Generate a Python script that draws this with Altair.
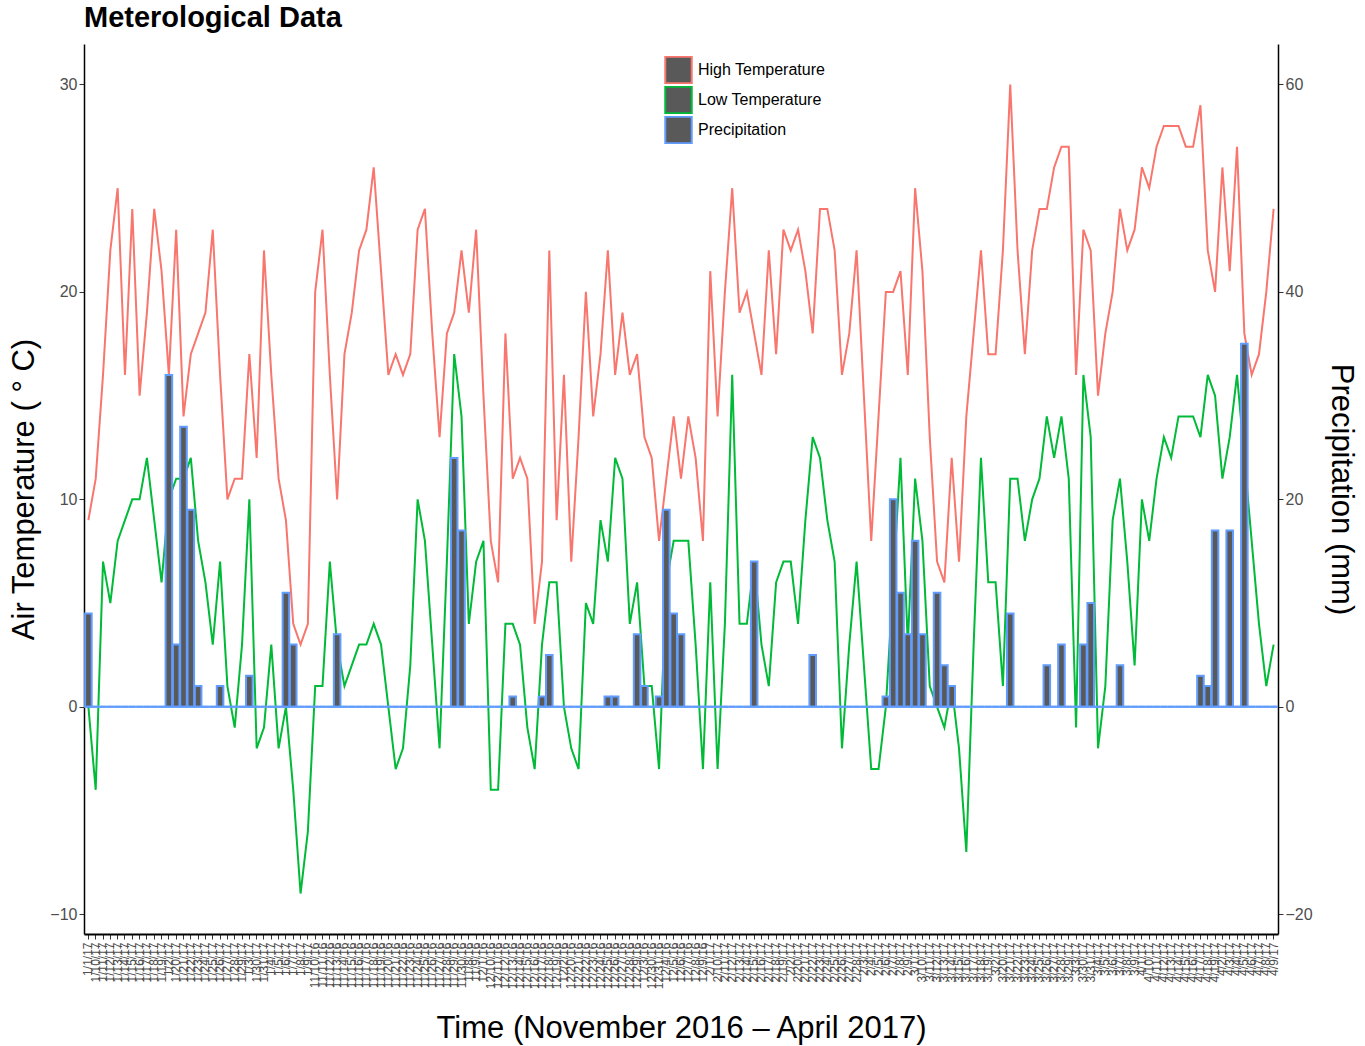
import altair as alt
import pandas as pd

# ---- category labels (date strings, ordered alphabetically as in the original) ----
def month_labels(month, year, first, last):
    return [f"{month}/{d}/{year}" for d in range(first, last + 1)]

date_strings = (month_labels(11, 16, 8, 30) + month_labels(12, 16, 1, 31) +
                month_labels(1, 17, 1, 31) + month_labels(2, 17, 1, 28) +
                month_labels(3, 17, 1, 31) + month_labels(4, 17, 1, 19))
days = sorted(date_strings)

# ---- series values, in axis order ----
high = [9, 11, 16, 22, 25, 16, 24, 15, 19, 24, 21, 16, 23, 14, 17, 18, 19, 23, 16, 10,
        11, 11, 17, 12, 22, 16, 11, 9, 4, 3, 4, 20, 23, 16, 10, 17, 19, 22, 23, 26,
        21, 16, 17, 16, 17, 23, 24, 18, 13, 18, 19, 22, 19, 23, 15, 8, 6, 18, 11, 12,
        11, 4, 7, 22, 9, 16, 7, 13, 20, 14, 17, 22, 16, 19, 16, 17, 13, 12, 8, 11,
        14, 11, 14, 12, 8, 21, 14, 20, 25, 19, 20, 18, 16, 22, 17, 23, 22, 23, 21, 18,
        24, 24, 22, 16, 18, 22, 15, 8, 14, 20,
        20, 21, 16, 25, 21, 13, 7, 6, 12, 7, 14, 18, 22, 17, 17, 22, 30, 22, 17, 22,
        24, 24, 26, 27, 27, 16, 23, 22, 15, 18, 20, 24, 22, 23, 26, 25, 27, 28, 28, 28,
        27, 27, 29, 22, 20, 26, 21, 27, 18, 16, 17, 20, 24]

low = [0, -4, 7, 5, 8, 9, 10, 10, 12, 9, 6, 10, 11, 11, 12, 8, 6, 3, 7, 1,
       -1, 3, 10, -2, -1, 3, -2, 0, -4, -9, -6, 1, 1, 7, 3, 1, 2, 3, 3, 4,
       3, 0, -3, -2, 2, 10, 8, 3, -2, 7, 17, 14, 4, 7, 8, -4, -4, 4, 4, 3,
       -1, -3, 3, 6, 6, 0, -2, -3, 5, 4, 9, 7, 12, 11, 4, 6, 1, 1, -3, 6,
       8, 8, 8, 3, -3, 6, -3, 4, 16, 4, 4, 7, 3, 1, 6, 7, 7, 4, 9, 13,
       12, 9, 7, -2, 3, 7, 2, -3, -3, 0,
       6, 12, 3, 11, 8, 1, 0, -1, 1, -2, -7, 3, 12, 6, 6, 1, 11, 11, 8, 10,
       11, 14, 12, 14, 11, -1, 16, 13, -2, 1, 9, 11, 7, 2, 10, 8, 11, 13, 12, 14,
       14, 14, 13, 16, 15, 11, 13, 16, 12, 8, 4, 1, 3]

precip = [9, 0, 0, 0, 0, 0, 0, 0, 0, 0, 0, 32, 6, 27, 19, 2, 0, 0, 2, 0,
          0, 0, 3, 0, 0, 0, 0, 11, 6, 0, 0, 0, 0, 0, 7, 0, 0, 0, 0, 0,
          0, 0, 0, 0, 0, 0, 0, 0, 0, 0, 24, 17, 0, 0, 0, 0, 0, 0, 1, 0,
          0, 0, 1, 5, 0, 0, 0, 0, 0, 0, 0, 1, 1, 0, 0, 7, 2, 0, 1, 19,
          9, 7, 0, 0, 0, 0, 0, 0, 0, 0, 0, 14, 0, 0, 0, 0, 0, 0, 0, 5,
          0, 0, 0, 0, 0, 0, 0, 0, 0, 1,
          20, 11, 7, 16, 7, 0, 11, 4, 2, 0, 0, 0, 0, 0, 0, 0, 9, 0, 0, 0,
          0, 4, 0, 6, 0, 0, 6, 10, 0, 0, 0, 4, 0, 0, 0, 0, 0, 0, 0, 0,
          0, 0, 3, 2, 17, 0, 17, 0, 35, 0, 0, 0, 0]

series_names = ["High Temperature", "Low Temperature", "Precipitation"]
series_colors = ["#F8766D", "#00BA38", "#619CFF"]

lines_df = pd.concat([
    pd.DataFrame({"day": days, "temp": high, "series": series_names[0]}),
    pd.DataFrame({"day": days, "temp": low, "series": series_names[1]}),
])
prec_df = pd.DataFrame({"day": days, "precip": precip, "series": series_names[2]})
zero_df = pd.DataFrame({"baseline": [0]})

FONT = "Liberation Sans"

x_enc = alt.X(
    "day:N", sort=days,
    scale=alt.Scale(paddingInner=0.1, paddingOuter=0.15),
    axis=alt.Axis(
        title="Time (November 2016 – April 2017)",
        labelAngle=270, labelFontSize=12, labelColor="#4d4d4d", labelFont=FONT,
        labelOverlap=False, labelBound=False, labelPadding=3,
        tickColor="#333333", tickSize=5, tickWidth=1,
        domainColor="black", domainWidth=2,
        titleFontSize=31, titleFontWeight="normal", titleFont=FONT, titleColor="black",
        titleX=597, titleY=94, titleBaseline="middle", titleAnchor="middle",
    ),
)

stroke_scale = alt.Scale(domain=series_names, range=series_colors)
legend = alt.Legend(
    title=None, orient="none", legendX=580, legendY=12,
    symbolType="square", symbolSize=700, symbolFillColor="#595959",
    symbolStrokeWidth=2, symbolOpacity=1,
    labelFontSize=16, labelFont=FONT, labelColor="black", labelOffset=5,
    rowPadding=2, clipHeight=28,
)

lines = alt.Chart(lines_df).mark_line(strokeWidth=2).encode(
    x=x_enc,
    y=alt.Y("temp:Q",
            scale=alt.Scale(domain=[-10.95, 31.95], nice=False, zero=False),
            axis=alt.Axis(values=[-10, 0, 10, 20, 30], title="Air Temperature ( ° C)",
                          labelFontSize=16, labelColor="#4d4d4d", labelFont=FONT,
                          tickColor="#333333", tickSize=5, domainColor="black", domainWidth=1.5,
                          titleFontSize=31, titleFontWeight="normal", titleFont=FONT,
                          titleColor="black", titleX=-60, titleY=445,
                          titleBaseline="middle", titleAnchor="middle", grid=False)),
    stroke=alt.Stroke("series:N", scale=stroke_scale, legend=legend),
)

precip_y = alt.Y("precip:Q",
                 scale=alt.Scale(domain=[-21.9, 63.9], nice=False, zero=False),
                 axis=alt.Axis(orient="right", values=[-20, 0, 20, 40, 60],
                               title="Precipitation (mm)",
                               labelFontSize=16, labelColor="#4d4d4d", labelFont=FONT,
                               tickColor="#333333", tickSize=5, domainColor="black",
                               domainWidth=1.5,
                               titleFontSize=31, titleFontWeight="normal", titleFont=FONT,
                               titleColor="black", titleX=62, titleY=445,
                               titleBaseline="middle", titleAnchor="middle", grid=False))

bars = alt.Chart(prec_df).mark_bar(fill="#595959", strokeWidth=2, fillOpacity=1).encode(
    x=x_enc,
    y=precip_y,
    stroke=alt.Stroke("series:N", scale=stroke_scale, legend=legend),
)

zero_rule = alt.Chart(zero_df).mark_rule(color="#619CFF", strokeWidth=2).encode(
    y=alt.Y("baseline:Q"),
)

chart = alt.layer(lines, alt.layer(bars, zero_rule)).resolve_scale(y="independent").properties(
    width=1194, height=890,
    title=alt.TitleParams("Meterological Data", anchor="start", frame="group",
                          fontSize=29, fontWeight="bold", font=FONT, color="black",
                          offset=11),
    autosize=alt.AutoSizeParams(type="none"),
    padding={"left": 84, "top": 44, "right": 87, "bottom": 112},
).configure_view(stroke=None).configure_axis(grid=False)

chart.save("out.html", embed_options={"renderer": "svg", "actions": False})
